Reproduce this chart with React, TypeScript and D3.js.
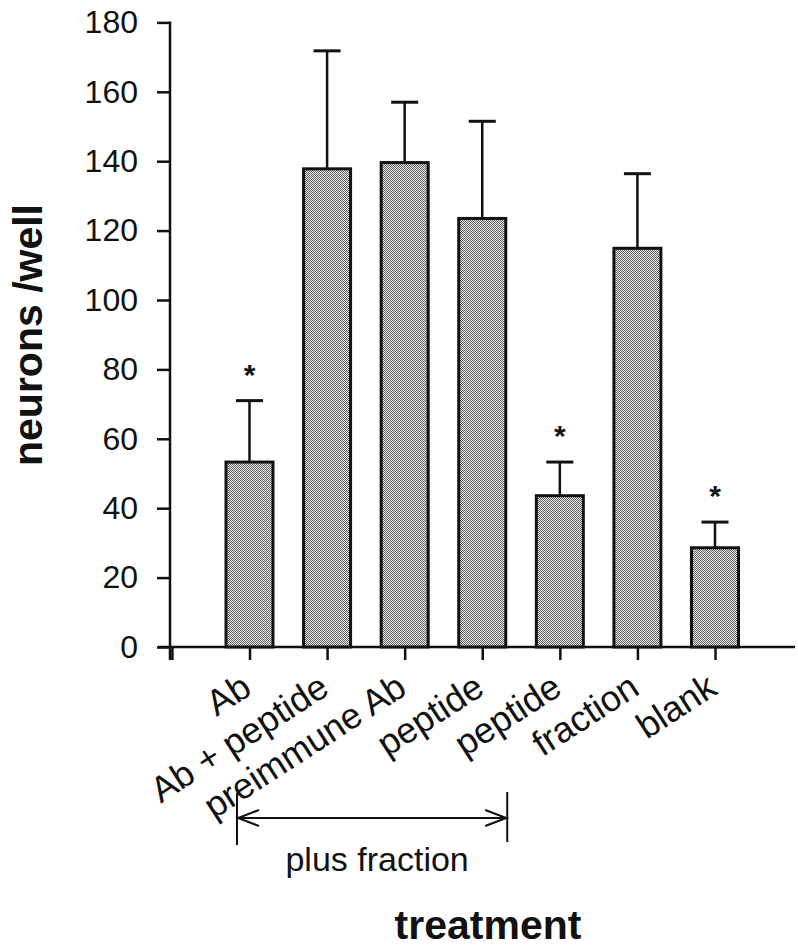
import React, { useRef, useEffect } from 'react'
import { select, scaleLinear, axisLeft, axisBottom } from 'd3'

// values
const categories = ['Ab', 'Ab + peptide', 'preimmune Ab', 'peptide', 'peptide', 'fraction', 'blank']
const means = [53.3, 137.8, 139.6, 123.5, 43.6, 114.9, 28.6]
const errors = [17.7, 34.0, 17.4, 28.0, 9.7, 21.5, 7.4]
const significant = [true, false, false, false, true, false, true]
const yTicks = [0, 20, 40, 60, 80, 100, 120, 140, 160, 180]
const xTicks = [-1, 0, 1, 2, 3, 4, 5, 6]
const bracketLabel = 'plus fraction'
const bracketRange = [0, 3]

const FONT = '"Liberation Sans", Arial, Helvetica, sans-serif'

export default function App() {
  const svgRef = useRef<SVGSVGElement>(null)

  useEffect(() => {
    const svg = select(svgRef.current)
    svg.selectAll('*').remove()

    const W = 798
    const H = 947
    svg.attr('width', W).attr('height', H).attr('viewBox', `0 0 ${W} ${H}`)

    // checker fill of the bars
    const defs = svg.append('defs')
    const pat = defs.append('pattern')
      .attr('id', 'dots')
      .attr('patternUnits', 'userSpaceOnUse')
      .attr('width', 2)
      .attr('height', 2)
    pat.append('rect').attr('width', 2).attr('height', 2).attr('fill', '#ececec')
    pat.append('rect').attr('x', 0).attr('y', 0).attr('width', 1).attr('height', 1).attr('fill', '#606060')
    pat.append('rect').attr('x', 1).attr('y', 1).attr('width', 1).attr('height', 1).attr('fill', '#606060')

    const x = scaleLinear().domain([0, 6]).range([249.5, 715])
    const y = scaleLinear().domain([0, 180]).range([647, 22.4])
    const axisX = 170
    const barW = 47
    const capW = 27

    // y axis
    const yAxis = axisLeft(y).tickValues(yTicks).tickSize(13).tickSizeOuter(0).tickPadding(19)
    const gy = svg.append('g').attr('transform', `translate(${axisX},0)`).call(yAxis)
    gy.select('.domain').remove()
    gy.selectAll('line').attr('stroke', '#111').attr('stroke-width', 2.5)
    gy.selectAll('text')
      .attr('fill', '#111')
      .style('font-family', FONT)
      .style('font-size', '32px')
    svg.append('line')
      .attr('x1', axisX).attr('x2', axisX)
      .attr('y1', y(180) - 1).attr('y2', y(0) + 13)
      .attr('stroke', '#111').attr('stroke-width', 2.5)

    // x axis (line + ticks only; labels drawn rotated below)
    const xAxis = axisBottom(x).tickValues(xTicks).tickSize(13).tickFormat(() => '')
    const gx = svg.append('g').attr('transform', `translate(0,${y(0)})`).call(xAxis)
    gx.select('.domain').remove()
    gx.selectAll('line').attr('stroke', '#111').attr('stroke-width', 2.5)
    svg.append('line')
      .attr('x1', 158).attr('x2', 795)
      .attr('y1', y(0)).attr('y2', y(0))
      .attr('stroke', '#111').attr('stroke-width', 2.5)

    // error bars
    const eb = svg.append('g').attr('stroke', '#111').attr('stroke-width', 2.5)
    categories.forEach((c, i) => {
      const top = y(means[i] + errors[i])
      eb.append('line')
        .attr('x1', x(i)).attr('x2', x(i))
        .attr('y1', y(means[i])).attr('y2', top)
      eb.append('line')
        .attr('x1', x(i) - capW / 2).attr('x2', x(i) + capW / 2)
        .attr('y1', top).attr('y2', top)
        .attr('stroke-width', 3)
    })

    // bars
    svg.append('g')
      .selectAll('rect')
      .data(means)
      .join('rect')
      .attr('x', (d, i) => x(i) - barW / 2)
      .attr('y', d => y(d))
      .attr('width', barW)
      .attr('height', d => y(0) - y(d))
      .attr('fill', 'url(#dots)')
      .attr('stroke', '#111')
      .attr('stroke-width', 3)

    // significance stars
    svg.append('g')
      .selectAll('text')
      .data(categories.map((c, i) => i).filter(i => significant[i]))
      .join('text')
      .attr('x', i => x(i))
      .attr('y', i => y(means[i] + errors[i]) - 16)
      .attr('text-anchor', 'middle')
      .style('font-family', FONT)
      .style('font-size', '30px')
      .style('font-weight', 'bold')
      .attr('fill', '#111')
      .text('*')

    // category labels
    svg.append('g')
      .selectAll('text')
      .data(categories)
      .join('text')
      .attr('transform', (d, i) => `translate(${x(i) + 4},${693}) rotate(-33)`)
      .attr('text-anchor', 'end')
      .style('font-family', FONT)
      .style('font-size', '36px')
      .attr('fill', '#111')
      .text(d => d)

    // bracket "plus fraction"
    const bx1 = x(bracketRange[0]) - 12.5
    const bx2 = x(bracketRange[1]) + 25
    const by = 818
    const br = svg.append('g').attr('stroke', '#111').attr('stroke-width', 2).attr('fill', 'none')
    br.append('line').attr('x1', bx1).attr('x2', bx1).attr('y1', 793).attr('y2', 845)
    br.append('line').attr('x1', bx2).attr('x2', bx2).attr('y1', 792).attr('y2', 842)
    br.append('line').attr('x1', bx1 + 1).attr('x2', bx2 - 1).attr('y1', by).attr('y2', by)
    br.append('path').attr('d', `M${bx1 + 22},${by - 8}L${bx1 + 1},${by}L${bx1 + 22},${by + 8}`)
    br.append('path').attr('d', `M${bx2 - 22},${by - 8}L${bx2 - 1},${by}L${bx2 - 22},${by + 8}`)
    svg.append('text')
      .attr('x', (bx1 + bx2) / 2 + 5)
      .attr('y', 871)
      .attr('text-anchor', 'middle')
      .style('font-family', FONT)
      .style('font-size', '34px')
      .attr('fill', '#111')
      .text(bracketLabel)

    // axis titles
    svg.append('text')
      .attr('transform', `translate(42,335) rotate(-90)`)
      .attr('text-anchor', 'middle')
      .style('font-family', FONT)
      .style('font-size', '41px')
      .style('font-weight', 'bold')
      .attr('fill', '#111')
      .text('neurons /well')
    svg.append('text')
      .attr('x', 488)
      .attr('y', 939)
      .attr('text-anchor', 'middle')
      .style('font-family', FONT)
      .style('font-size', '41px')
      .style('font-weight', 'bold')
      .attr('fill', '#111')
      .text('treatment')
  }, [])

  return (
    <div style={{ position: 'absolute', left: 0, top: 0, background: '#fff' }}>
      <svg ref={svgRef} style={{ display: 'block' }} />
    </div>
  )
}
